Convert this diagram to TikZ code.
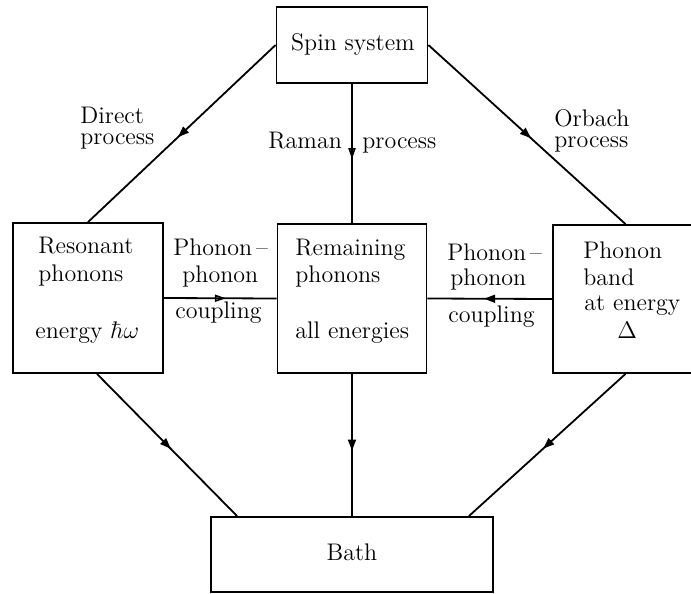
\documentclass[tikz,border=0pt]{standalone}
\usetikzlibrary{arrows.meta,decorations.markings,calc}
\begin{document}
\begin{tikzpicture}[x=0.5pt,y=-0.5pt,
  box/.style={draw, line width=0.9pt, inner sep=0pt},
  txt/.style={anchor=base west, inner sep=0pt, font=\fontsize{12}{14}\selectfont},
  ctxt/.style={anchor=base, inner sep=0pt, font=\fontsize{12}{14}\selectfont},
  conn/.style={line width=0.9pt},
  midfill/.style={conn, postaction={decorate}, decoration={markings,
     mark=at position 0.5 with {\arrow[xshift=2.8pt]{Triangle[length=5.5pt,width=4pt]}}}},
  midopen/.style={conn, postaction={decorate}, decoration={markings,
     mark=at position 0.5 with {\arrow[xshift=2.8pt]{Triangle[open,length=5.5pt,width=3.6pt,line width=0.8pt]}}}}
]
\useasboundingbox (0,0) rectangle (691,594);

% boxes
\node[box, minimum width=75.5pt, minimum height=38pt] (spin) at (352,45) {};
\node[box, minimum width=75pt, minimum height=75pt] (res) at (88,298) {};
\node[box, minimum width=74.5pt, minimum height=74.5pt] (rem) at (352,298.5) {};
\node[box, minimum width=74.5pt, minimum height=74pt] (band) at (627.5,299) {};
\node[box, minimum width=141pt, minimum height=37.5pt] (bath) at (352,554.5) {};

% box texts
\node[ctxt] (tspin) at (353,50) {Spin system};
\node[txt] (tres1) at (38,253) {Resonant};
\node[txt] (tres2) at (38,281) {phonons};
\node[txt] (tres3) at (35,338) {energy $\hbar\omega$};
\node[txt] (trem1) at (295,255) {Remaining};
\node[txt] (trem2) at (295,282) {phonons};
\node[txt] (trem3) at (295,338) {all energies};
\node[txt] (tband1) at (583,258) {Phonon};
\node[txt] (tband2) at (583,285) {band};
\node[txt] (tband3) at (584,310) {at energy};
\node[txt] (tband4) at (617,338) {$\Delta$};
\node[ctxt] (tbath) at (352,560) {Bath};

% connector labels
\node[txt] (ldir1) at (80,123) {Direct};
\node[txt] (ldir2) at (80,144) {process};
\node[txt] (lorb1) at (554,126) {Orbach};
\node[txt] (lorb2) at (554,147) {process};
\node[txt] (lram1) at (268,148) {Raman};
\node[txt] (lram2) at (362,148) {process};
\node[txt] (lpl1) at (173,255) {Phonon\,--};
\node[txt] (lpl2) at (182,282) {phonon};
\node[txt] (lpl3) at (175,318) {coupling};
\node[txt] (lpr1) at (447,260) {Phonon\,--};
\node[txt] (lpr2) at (450,285) {phonon};
\node[txt] (lpr3) at (448,322) {coupling};

% connector end points
\coordinate (resb) at ($(res.south)+(9,0)$);
\coordinate (bathl) at ($(bath.north west)+(27,0)$);
\coordinate (bathr) at ($(bath.north east)+(-25,0)$);
\coordinate (bandt) at ($(band.north)+(-2,0)$);
\coordinate (bandb) at ($(band.south)+(-2,0)$);

% connectors
\draw[midfill] (spin.west) -- (res.north);
\draw[midopen] (spin.south) -- (rem.north);
\draw[midfill] (spin.east) -- (bandt);
\draw[midopen] (res.east) -- (rem.west);
\draw[midfill] (band.west) -- (rem.east);
\draw[midfill] (resb) -- (bathl);
\draw[midfill] (rem.south) -- (bath.north);
\draw[midfill] (bandb) -- (bathr);
\end{tikzpicture}
\end{document}
